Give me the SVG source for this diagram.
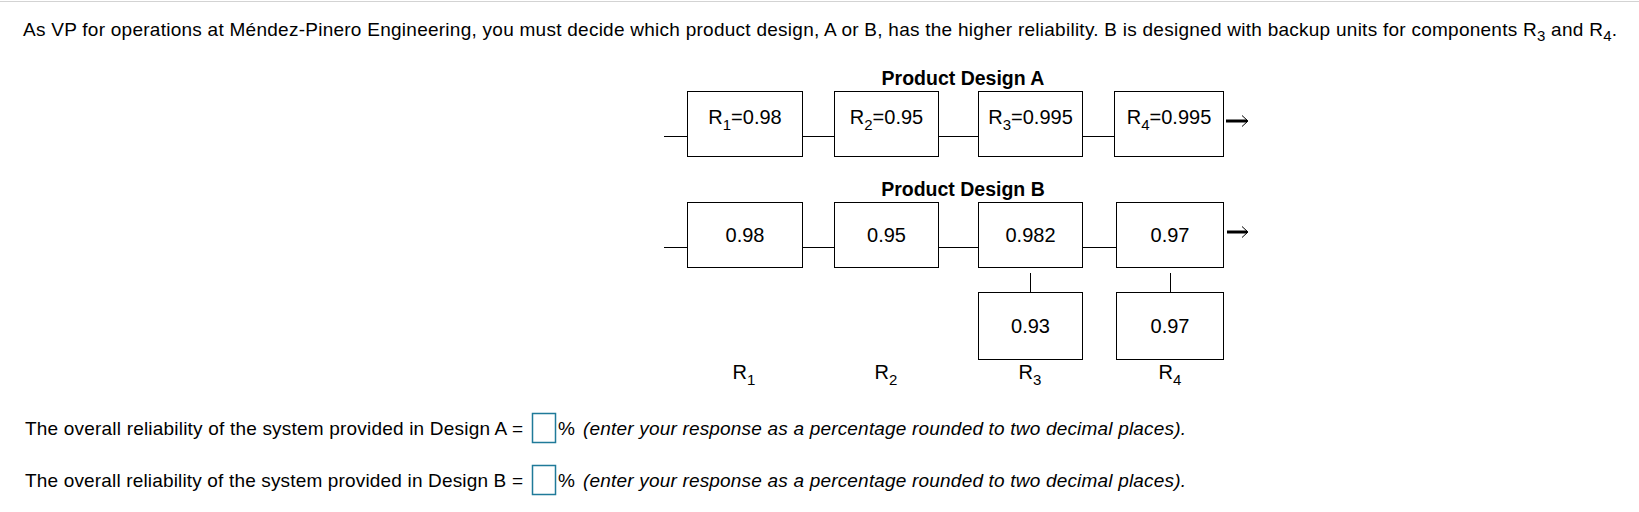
<svg xmlns="http://www.w3.org/2000/svg" width="1639" height="512" viewBox="0 0 1639 512">
<style>
text{font-family:"Liberation Sans",Arial,sans-serif;fill:#000}
.body{font-size:19px}
.it{font-style:italic}
.box{fill:#fff;stroke:#000;stroke-width:1}
.val{font-size:20px;text-anchor:middle}
.ttl{font-size:19.5px;font-weight:bold;text-anchor:middle}
.sub{font-size:15px}
.conn{stroke:#000;stroke-width:1;fill:none}
.inp{fill:#fff;stroke:#1f7a99;stroke-width:1.5}
</style>
<rect x="0" y="0" width="1639" height="512" fill="#fff"/>
<line x1="0" y1="1.5" x2="1639" y2="1.5" stroke="#d3d3d3" stroke-width="1"/>
<text class="body" x="23" y="36" textLength="1594" lengthAdjust="spacing">As VP for operations at Méndez-Pinero Engineering, you must decide which product design, A or B, has the higher reliability. B is designed with backup units for components R<tspan class="sub" dy="5">3</tspan><tspan dy="-5"> and R</tspan><tspan class="sub" dy="5">4</tspan><tspan dy="-5">.</tspan></text>

<text class="ttl" x="963" y="85">Product Design A</text>
<text class="ttl" x="963" y="196">Product Design B</text>

<g id="connectors">
<line class="conn" x1="664" y1="136.5" x2="687.5" y2="136.5"/>
<line class="conn" x1="802.5" y1="136.5" x2="834.5" y2="136.5"/>
<line class="conn" x1="938.5" y1="136.5" x2="978.5" y2="136.5"/>
<line class="conn" x1="1082.5" y1="136.5" x2="1114.5" y2="136.5"/>
<line x1="1226" y1="121" x2="1247" y2="121" stroke="#000" stroke-width="3"/>
<polyline class="conn" points="1242,115.5 1248,121 1242,126.5"/>
<line class="conn" x1="664" y1="247.5" x2="687.5" y2="247.5"/>
<line class="conn" x1="802.5" y1="247.5" x2="834.5" y2="247.5"/>
<line class="conn" x1="938.5" y1="247.5" x2="978.5" y2="247.5"/>
<line class="conn" x1="1082.5" y1="247.5" x2="1116.5" y2="247.5"/>
<line x1="1227" y1="232" x2="1247" y2="232" stroke="#000" stroke-width="3"/>
<polyline class="conn" points="1242,226.5 1248,232 1242,237.5"/>
<line class="conn" x1="1030.5" y1="273" x2="1030.5" y2="292"/>
<line class="conn" x1="1170.5" y1="273" x2="1170.5" y2="292"/>
</g>

<g id="a1"><rect class="box" x="687.5" y="91.5" width="115" height="65"/><text class="val" x="745" y="124">R<tspan class="sub" dy="6">1</tspan><tspan dy="-6">=0.98</tspan></text></g>
<g id="a2"><rect class="box" x="834.5" y="91.5" width="104" height="65"/><text class="val" x="886.5" y="124">R<tspan class="sub" dy="6">2</tspan><tspan dy="-6">=0.95</tspan></text></g>
<g id="a3"><rect class="box" x="978.5" y="91.5" width="104" height="65"/><text class="val" x="1030.5" y="124">R<tspan class="sub" dy="6">3</tspan><tspan dy="-6">=0.995</tspan></text></g>
<g id="a4"><rect class="box" x="1114.5" y="91.5" width="109" height="65"/><text class="val" x="1169" y="124">R<tspan class="sub" dy="6">4</tspan><tspan dy="-6">=0.995</tspan></text></g>

<g id="b1"><rect class="box" x="687.5" y="202.5" width="115" height="65"/><text class="val" x="745" y="242">0.98</text></g>
<g id="b2"><rect class="box" x="834.5" y="202.5" width="104" height="65"/><text class="val" x="886.5" y="242">0.95</text></g>
<g id="b3"><rect class="box" x="978.5" y="202.5" width="104" height="65"/><text class="val" x="1030.5" y="242">0.982</text></g>
<g id="b4"><rect class="box" x="1116.5" y="202.5" width="107" height="65"/><text class="val" x="1170" y="242">0.97</text></g>
<g id="c3"><rect class="box" x="978.5" y="292.5" width="104" height="67"/><text class="val" x="1030.5" y="333">0.93</text></g>
<g id="c4"><rect class="box" x="1116.5" y="292.5" width="107" height="67"/><text class="val" x="1170" y="333">0.97</text></g>

<g id="labels">
<text class="val" x="744" y="379">R<tspan class="sub" dy="6">1</tspan></text>
<text class="val" x="886" y="379">R<tspan class="sub" dy="6">2</tspan></text>
<text class="val" x="1030" y="379">R<tspan class="sub" dy="6">3</tspan></text>
<text class="val" x="1170" y="379">R<tspan class="sub" dy="6">4</tspan></text>
</g>

<g id="qA">
<text class="body" x="25" y="434.5" textLength="498" lengthAdjust="spacing">The overall reliability of the system provided in Design A =</text>
<rect class="inp" x="532.5" y="413.5" width="23" height="29"/>
<text class="body" x="558" y="434.5">%</text>
<text class="body it" x="583" y="434.5" textLength="603" lengthAdjust="spacing">(enter your response as a percentage rounded to two decimal places).</text>
</g>
<g id="qB">
<text class="body" x="25" y="486.5" textLength="498" lengthAdjust="spacing">The overall reliability of the system provided in Design B =</text>
<rect class="inp" x="532.5" y="465.5" width="23" height="29"/>
<text class="body" x="558" y="486.5">%</text>
<text class="body it" x="583" y="486.5" textLength="603" lengthAdjust="spacing">(enter your response as a percentage rounded to two decimal places).</text>
</g>
</svg>
